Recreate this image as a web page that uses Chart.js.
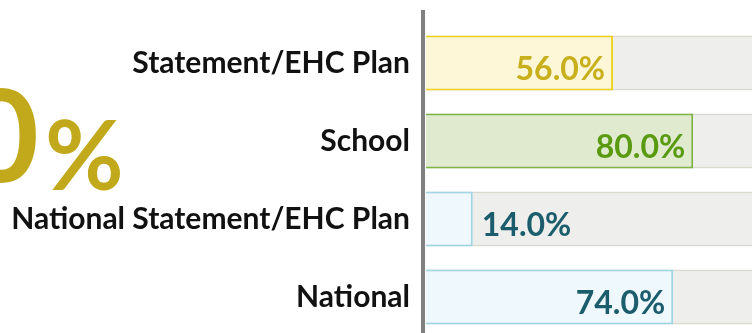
<!DOCTYPE html>
<html>
<head>
<meta charset="utf-8">
<script src="https://cdn.jsdelivr.net/npm/chart.js@4.4.1/dist/chart.umd.min.js"></script>
<style>
    html, body { margin: 0; padding: 0; background: #ffffff; overflow: hidden; }
    #wrap { width: 770px; height: 340px; }
</style>
</head>
<body>
<div id="wrap"><canvas id="send-chart" width="770" height="340"></canvas></div>
<script>
const categories = ['Statement/EHC Plan', 'School', 'National Statement/EHC Plan', 'National'];
const percentValues = [56.0, 80.0, 14.0, 74.0];
const trackValues = [100, 100, 100, 100];
const headlineNumber = '80';
const headlineUnit = '%';

const barFills = ['#fdf7d8', '#dfeacf', '#eff8fd', '#eff8fd'];
const barBorders = ['#efd31e', '#7db443', '#a0d5e4', '#a0d5e4'];
const labelColors = ['#c8af1c', '#5a9a10', '#1b5d6c', '#1b5d6c'];

const FONT = 'Lato, "Open Sans", sans-serif';

// big headline figure on the left, partly off the page
const headlinePlugin = {
    id: 'headline',
    beforeDraw(chart) {
        const ctx = chart.ctx;
        ctx.save();
        ctx.fillStyle = '#c1a91b';
        ctx.textBaseline = 'alphabetic';
        ctx.textAlign = 'right';
        ctx.font = 'bold 128px ' + FONT;
        ctx.fillText(headlineNumber, 39, 182);
        ctx.textAlign = 'left';
        ctx.font = 'bold 96px ' + FONT;
        ctx.fillText(headlineUnit, 45, 190);
        ctx.restore();
    }
};

// thick grey axis line left of the bars
const axisLinePlugin = {
    id: 'axisLine',
    afterDraw(chart) {
        const ctx = chart.ctx;
        ctx.save();
        ctx.fillStyle = '#808080';
        ctx.fillRect(chart.chartArea.left - 5, 10, 4, chart.height - 10);
        ctx.restore();
    }
};

// percentage text inside the bar end, or just after it when the bar is short
const valueLabelPlugin = {
    id: 'valueLabels',
    afterDatasetsDraw(chart) {
        const ctx = chart.ctx;
        const meta = chart.getDatasetMeta(0);
        ctx.save();
        ctx.font = 'bold 32px ' + FONT;
        ctx.textBaseline = 'alphabetic';
        meta.data.forEach((bar, i) => {
            const text = percentValues[i].toFixed(1) + '%';
            const w = ctx.measureText(text).width;
            const barWidth = bar.x - bar.base;
            ctx.fillStyle = labelColors[i];
            if (w + 16 < barWidth) {
                ctx.textAlign = 'right';
                ctx.fillText(text, bar.x - 8, bar.y + 17);
            } else {
                ctx.textAlign = 'left';
                ctx.fillText(text, bar.x + 9, bar.y + 17);
            }
        });
        ctx.restore();
    }
};

new Chart(document.getElementById('send-chart'), {
    type: 'bar',
    data: {
        labels: categories,
        datasets: [
            {
                data: percentValues,
                backgroundColor: barFills,
                borderColor: barBorders,
                borderWidth: 2,
                borderSkipped: 'start',
                grouped: false,
                order: 0,
                categoryPercentage: 1,
                barPercentage: 0.705
            },
            {
                data: trackValues,
                backgroundColor: '#eeeeec',
                borderColor: '#d9d9d1',
                borderWidth: { top: 2, bottom: 2, left: 0, right: 0 },
                borderSkipped: false,
                grouped: false,
                order: 1,
                categoryPercentage: 1,
                barPercentage: 0.705
            }
        ]
    },
    options: {
        indexAxis: 'y',
        responsive: false,
        animation: false,
        layout: {
            padding: { top: 24, bottom: 4, left: 0, right: 10 }
        },
        plugins: {
            legend: { display: false },
            tooltip: { enabled: false }
        },
        scales: {
            x: {
                display: false,
                min: 0,
                max: 100
            },
            y: {
                afterFit(scale) {
                    scale.width = 426;
                    scale.paddingTop = 0;
                    scale.paddingBottom = 0;
                },
                grid: { display: false, drawTicks: false },
                border: { display: false },
                ticks: {
                    padding: 16,
                    color: '#111111',
                    font: { family: FONT, size: 30, weight: 'bold' }
                }
            }
        }
    },
    plugins: [headlinePlugin, axisLinePlugin, valueLabelPlugin]
});
</script>
</body>
</html>
